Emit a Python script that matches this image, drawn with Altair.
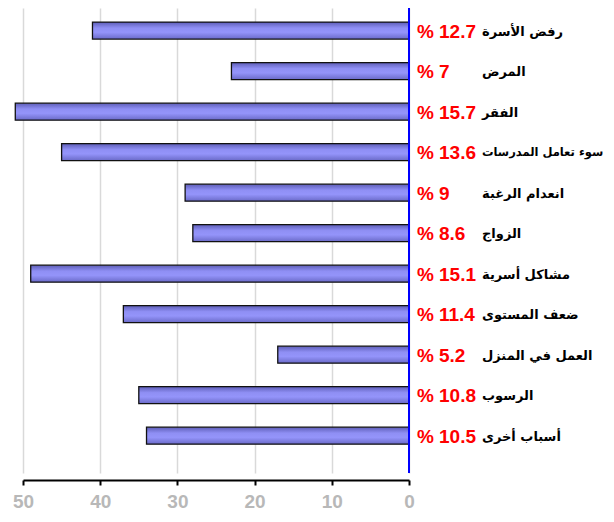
import altair as alt
import pandas as pd

categories = ["رفض الأسرة", "المرض", "الفقر", "سوء تعامل المدرسات", "انعدام الرغبة",
              "الزواج", "مشاكل أسرية", "ضعف المستوى", "العمل في المنزل", "الرسوب", "أسباب أخرى"]
counts = [41, 23, 51, 45, 29, 28, 49, 37, 17, 35, 34]
percents = ["12.7", "7", "15.7", "13.6", "9", "8.6", "15.1", "11.4", "5.2", "10.8", "10.5"]
x_ticks = [0, 10, 20, 30, 40, 50]

df = pd.DataFrame({
    "idx": list(range(len(categories))),
    "cat": categories,
    "count": counts,
    "pct": percents,
})

W, H = 386, 465

xscale = alt.Scale(domain=[0, 50], reverse=True, nice=False, zero=True)
yscale = alt.Scale(domain=[-0.435, 10.797], reverse=True, nice=False, zero=False)

base = alt.Chart(df)

grad = alt.Gradient(
    gradient="linear", x1=0, y1=0, x2=0, y2=1,
    stops=[
        alt.GradientStop(color="#5e5eb8", offset=0),
        alt.GradientStop(color="#8f8ff4", offset=0.35),
        alt.GradientStop(color="#9494fa", offset=0.6),
        alt.GradientStop(color="#6a6ac8", offset=1),
    ],
)

bars = base.mark_bar(orient="horizontal", size=17, color=grad, stroke="#111111",
                     strokeWidth=1.3).encode(
    x=alt.X("count:Q", scale=xscale,
            axis=alt.Axis(values=x_ticks, title=None, grid=True, gridColor="#d9d9d9",
                          gridWidth=1.5, domainColor="#000000", domainWidth=2,
                          tickColor="#000000", tickWidth=2, tickSize=5, offset=7,
                          labelColor="#b8b8b8", labelFont="Liberation Sans",
                          labelFontWeight="bold", labelFontSize=19, labelPadding=7,
                          labelFlush=False)),
    y=alt.Y("idx:Q", scale=yscale, axis=None),
)

blue = base.mark_rule(color="#0000ff", strokeWidth=2).encode(
    x=alt.datum(0, scale=xscale),
)

pct_sign = base.mark_text(align="left", baseline="middle", dx=8, dy=1, color="#ff0000",
                          font="Liberation Sans", fontWeight="bold", fontSize=19,
                          text="%").encode(
    x=alt.datum(0),
    y=alt.Y("idx:Q", scale=yscale),
)

pct_num = base.mark_text(align="left", baseline="middle", dx=30, dy=1, color="#ff0000",
                         font="Liberation Sans", fontWeight="bold", fontSize=19).encode(
    x=alt.datum(0),
    y=alt.Y("idx:Q", scale=yscale),
    text="pct:N",
)

labels = base.mark_text(align="left", baseline="middle", dx=73, dy=1, color="#000000",
                        font="DejaVu Sans", fontWeight="bold").encode(
    x=alt.datum(0),
    y=alt.Y("idx:Q", scale=yscale),
    text="cat:N",
    size=alt.condition("length(datum.cat) > 15", alt.value(11.5), alt.value(13)),
)

chart = alt.layer(bars, blue, pct_sign, pct_num, labels).properties(
    width=W, height=H,
    autosize=alt.AutoSizeParams(type="none"),
    padding={"left": 15, "top": 0, "right": 196, "bottom": 39},
).configure_view(strokeWidth=0)

chart.save("out.html", embed_options={"renderer": "svg", "actions": False})
